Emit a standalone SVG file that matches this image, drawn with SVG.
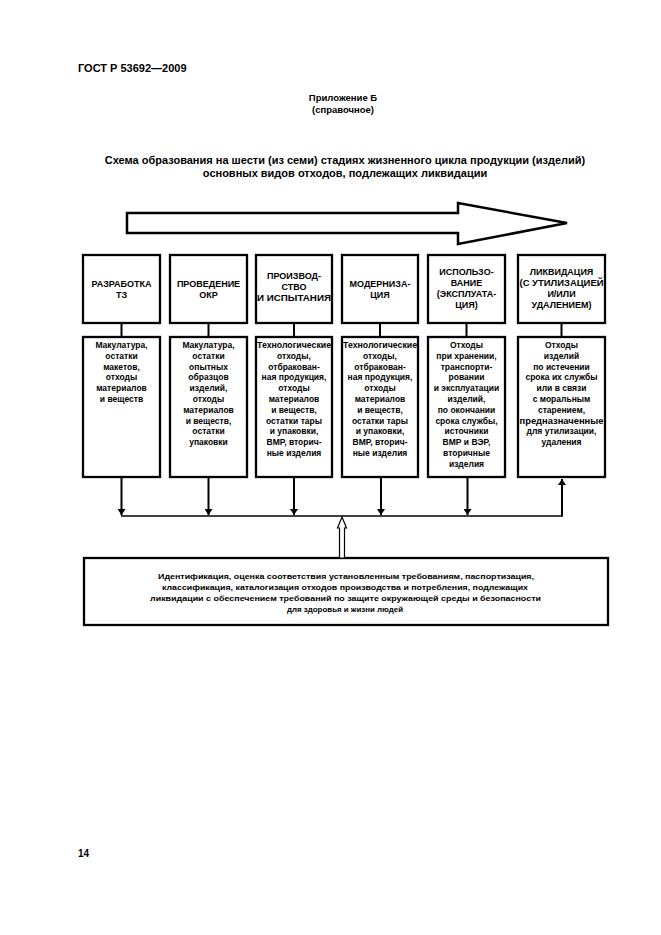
<svg xmlns="http://www.w3.org/2000/svg" width="661" height="935" viewBox="0 0 661 935">
<style>
text{font-family:"Liberation Sans",Arial,sans-serif;font-weight:bold;fill:#000}
.hdr{font-size:11px}
.sub{font-size:9.5px;text-anchor:middle}
.ttl{font-size:11px;text-anchor:middle}
.st{font-size:9px;text-anchor:middle}
.lt{font-size:8.5px;text-anchor:middle}
.bt{font-size:7.8px;text-anchor:middle}
.box{fill:#fff;stroke:#000;stroke-width:2.3}
.ln{fill:none;stroke:#000;stroke-width:2}
.hl{fill:none;stroke:#000;stroke-width:1.6}
</style>
<defs>
<marker id="ah" viewBox="0 0 6 8" refX="6" refY="4" markerWidth="3" markerHeight="4" orient="auto" markerUnits="strokeWidth">
<path d="M0,0 L6,4 L0,8 z" fill="#000"/>
</marker>
</defs>
<rect width="661" height="935" fill="#fff"/>
<text class="hdr" x="78" y="72">ГОСТ Р 53692—2009</text>
<text class="sub" x="343" y="101">Приложение Б</text>
<text class="sub" x="343" y="113">(справочное)</text>
<text class="ttl" x="345" y="164">Схема образования на шести (из семи) стадиях жизненного цикла продукции (изделий)</text>
<text class="ttl" x="345" y="177">основных видов отходов, подлежащих ликвидации</text>

<g id="bigarrow">
<polygon points="127,213 458,213 458,203 567,223 458,244 458,233 127,233" fill="#fff" stroke="#000" stroke-width="2.5" stroke-linejoin="miter"/>
</g>

<g id="stage1">
<rect class="box" x="83" y="255" width="77" height="68"/>
<text class="st" x="121.5" y="287">РАЗРАБОТКА</text>
<text class="st" x="121.5" y="298">ТЗ</text>
</g>
<g id="stage2">
<rect class="box" x="170" y="255" width="77" height="68"/>
<text class="st" x="208.5" y="287">ПРОВЕДЕНИЕ</text>
<text class="st" x="208.5" y="298">ОКР</text>
</g>
<g id="stage3">
<rect class="box" x="256" y="255" width="76" height="68"/>
<text class="st" x="294" y="279">ПРОИЗВОД-</text>
<text class="st" x="294" y="290">СТВО</text>
<text class="st" x="294" y="301" textLength="74" lengthAdjust="spacingAndGlyphs">И ИСПЫТАНИЯ</text>
</g>
<g id="stage4">
<rect class="box" x="342" y="255" width="76" height="68"/>
<text class="st" x="380" y="287">МОДЕРНИЗА-</text>
<text class="st" x="380" y="298">ЦИЯ</text>
</g>
<g id="stage5">
<rect class="box" x="428" y="255" width="77" height="68"/>
<text class="st" x="466.5" y="275">ИСПОЛЬЗО-</text>
<text class="st" x="466.5" y="286">ВАНИЕ</text>
<text class="st" x="466.5" y="297">(ЭКСПЛУАТА-</text>
<text class="st" x="466.5" y="308">ЦИЯ)</text>
</g>
<g id="stage6">
<rect class="box" x="518" y="255" width="87" height="68"/>
<text class="st" x="561.5" y="275">ЛИКВИДАЦИЯ</text>
<text class="st" x="561.5" y="286" textLength="84" lengthAdjust="spacingAndGlyphs">(С УТИЛИЗАЦИЕЙ</text>
<text class="st" x="561.5" y="297">И/ИЛИ</text>
<text class="st" x="561.5" y="308">УДАЛЕНИЕМ)</text>
</g>

<g id="waste1">
<rect class="box" x="83" y="337" width="77" height="140"/>
<text class="lt" x="121.5" y="348">Макулатура,</text>
<text class="lt" x="121.5" y="358.8">остатки</text>
<text class="lt" x="121.5" y="369.6">макетов,</text>
<text class="lt" x="121.5" y="380.4">отходы</text>
<text class="lt" x="121.5" y="391.2">материалов</text>
<text class="lt" x="121.5" y="402">и веществ</text>
</g>
<g id="waste2">
<rect class="box" x="170" y="337" width="77" height="140"/>
<text class="lt" x="208.5" y="348">Макулатура,</text>
<text class="lt" x="208.5" y="358.8">остатки</text>
<text class="lt" x="208.5" y="369.6">опытных</text>
<text class="lt" x="208.5" y="380.4">образцов</text>
<text class="lt" x="208.5" y="391.2">изделий,</text>
<text class="lt" x="208.5" y="402">отходы</text>
<text class="lt" x="208.5" y="412.8">материалов</text>
<text class="lt" x="208.5" y="423.6">и веществ,</text>
<text class="lt" x="208.5" y="434.4">остатки</text>
<text class="lt" x="208.5" y="445.2">упаковки</text>
</g>
<g id="waste3">
<rect class="box" x="256" y="337" width="76" height="140"/>
<text class="lt" x="294" y="348" textLength="74" lengthAdjust="spacingAndGlyphs">Технологические</text>
<text class="lt" x="294" y="358.8">отходы,</text>
<text class="lt" x="294" y="369.6">отбракован-</text>
<text class="lt" x="294" y="380.4">ная продукция,</text>
<text class="lt" x="294" y="391.2">отходы</text>
<text class="lt" x="294" y="402">материалов</text>
<text class="lt" x="294" y="412.8">и веществ,</text>
<text class="lt" x="294" y="423.6">остатки тары</text>
<text class="lt" x="294" y="434.4">и упаковки,</text>
<text class="lt" x="294" y="445.2">ВМР, вторич-</text>
<text class="lt" x="294" y="456">ные изделия</text>
</g>
<g id="waste4">
<rect class="box" x="342" y="337" width="76" height="140"/>
<text class="lt" x="380" y="348" textLength="74" lengthAdjust="spacingAndGlyphs">Технологические</text>
<text class="lt" x="380" y="358.8">отходы,</text>
<text class="lt" x="380" y="369.6">отбракован-</text>
<text class="lt" x="380" y="380.4">ная продукция,</text>
<text class="lt" x="380" y="391.2">отходы</text>
<text class="lt" x="380" y="402">материалов</text>
<text class="lt" x="380" y="412.8">и веществ,</text>
<text class="lt" x="380" y="423.6">остатки тары</text>
<text class="lt" x="380" y="434.4">и упаковки,</text>
<text class="lt" x="380" y="445.2">ВМР, вторич-</text>
<text class="lt" x="380" y="456">ные изделия</text>
</g>
<g id="waste5">
<rect class="box" x="428" y="337" width="77" height="140"/>
<text class="lt" x="466.5" y="348">Отходы</text>
<text class="lt" x="466.5" y="358.8">при хранении,</text>
<text class="lt" x="466.5" y="369.6">транспорти-</text>
<text class="lt" x="466.5" y="380.4">ровании</text>
<text class="lt" x="466.5" y="391.2">и эксплуатации</text>
<text class="lt" x="466.5" y="402">изделий,</text>
<text class="lt" x="466.5" y="412.8">по окончании</text>
<text class="lt" x="466.5" y="423.6">срока службы,</text>
<text class="lt" x="466.5" y="434.4">источники</text>
<text class="lt" x="466.5" y="445.2">ВМР и ВЭР,</text>
<text class="lt" x="466.5" y="456">вторичные</text>
<text class="lt" x="466.5" y="466.8">изделия</text>
</g>
<g id="waste6">
<rect class="box" x="518" y="337" width="87" height="140"/>
<text class="lt" x="561.5" y="348">Отходы</text>
<text class="lt" x="561.5" y="358.8">изделий</text>
<text class="lt" x="561.5" y="369.6">по истечении</text>
<text class="lt" x="561.5" y="380.4">срока их службы</text>
<text class="lt" x="561.5" y="391.2">или в связи</text>
<text class="lt" x="561.5" y="402">с моральным</text>
<text class="lt" x="561.5" y="412.8">старением,</text>
<text class="lt" x="561.5" y="423.6" textLength="84" lengthAdjust="spacingAndGlyphs">предназначенные</text>
<text class="lt" x="561.5" y="434.4">для утилизации,</text>
<text class="lt" x="561.5" y="445.2">удаления</text>
</g>

<g id="procedure">
<rect class="box" x="84" y="558" width="524" height="67"/>
<text class="bt" x="346" y="579" textLength="376" lengthAdjust="spacingAndGlyphs">Идентификация, оценка соответствия установленным требованиям, паспортизация,</text>
<text class="bt" x="345" y="590" textLength="366" lengthAdjust="spacingAndGlyphs">классификация, каталогизация отходов производства и потребления, подлежащих</text>
<text class="bt" x="345.5" y="601" textLength="391" lengthAdjust="spacingAndGlyphs">ликвидации с обеспечением требований по защите окружающей среды и безопасности</text>
<text class="bt" x="345" y="612" textLength="116" lengthAdjust="spacingAndGlyphs">для здоровья и жизни людей</text>
</g>

<g id="connectors">
<line class="ln" x1="121.5" y1="323" x2="121.5" y2="337"/>
<line class="ln" x1="208.5" y1="323" x2="208.5" y2="337"/>
<line class="ln" x1="294" y1="323" x2="294" y2="337"/>
<line class="ln" x1="380" y1="323" x2="380" y2="337"/>
<line class="ln" x1="466.5" y1="323" x2="466.5" y2="337"/>
<line class="ln" x1="561.5" y1="323" x2="561.5" y2="337"/>
<line class="ln" x1="121.5" y1="478" x2="121.5" y2="515" marker-end="url(#ah)"/>
<line class="ln" x1="208.5" y1="478" x2="208.5" y2="515" marker-end="url(#ah)"/>
<line class="ln" x1="294" y1="478" x2="294" y2="515" marker-end="url(#ah)"/>
<line class="ln" x1="381" y1="478" x2="381" y2="515" marker-end="url(#ah)"/>
<line class="ln" x1="467.5" y1="478" x2="467.5" y2="515" marker-end="url(#ah)"/>
<line class="ln" x1="562" y1="516.5" x2="562" y2="479" marker-end="url(#ah)"/>
<polyline class="hl" points="121,516 562.5,516"/>
<polygon points="342,517 346.5,528 344.5,528 344.5,558 339.5,558 339.5,528 337.5,528" fill="#fff" stroke="#000" stroke-width="1.2"/>
</g>

<text x="78" y="857" style="font-size:10px">14</text>
</svg>
